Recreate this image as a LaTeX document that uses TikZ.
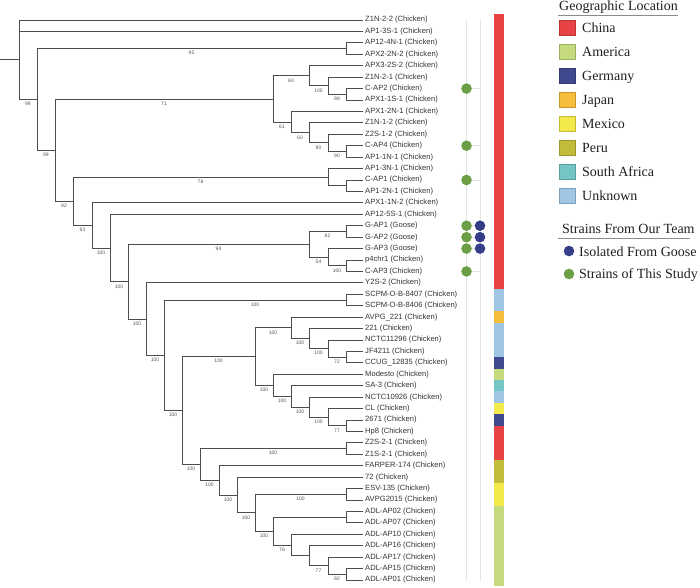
\documentclass[tikz,border=0pt]{standalone}
\usepackage{fontspec}
\setmainfont{Liberation Serif}
\newfontfamily\arialf{Liberation Sans}
\definecolor{treec}{HTML}{4D4D4D}
\definecolor{leafc}{HTML}{333333}
\definecolor{bsc}{HTML}{555555}
\definecolor{china}{HTML}{E84344}
\definecolor{america}{HTML}{C5DA7C}
\definecolor{germany}{HTML}{3E498E}
\definecolor{japan}{HTML}{F7BE3B}
\definecolor{mexico}{HTML}{F4E94B}
\definecolor{peru}{HTML}{C2BC3B}
\definecolor{safrica}{HTML}{74C6C5}
\definecolor{unknown}{HTML}{A0C6E6}
\definecolor{dotgreen}{HTML}{6C9E45}
\definecolor{dotblue}{HTML}{363D88}
\definecolor{axisgray}{HTML}{E4E4E4}
\newcommand\br[3]{\draw[br] (#1) |- node[bs]{#3} (#2);}
\begin{document}
\begin{tikzpicture}[x=1pt,y=-1pt,
  br/.style={draw=treec, line width=0.75pt, line cap=rect},
  bs/.style={pos=0.75, below=2pt, font=\arialf\fontsize{5}{5}\selectfont, text=bsc, inner sep=0.5pt},
  leaf/.style={anchor=west, font=\arialf\fontsize{7.6}{8}\selectfont, text=leafc, inner xsep=2pt, inner ysep=0pt},
  gdot/.style={circle, fill=dotgreen, minimum size=10.6pt, inner sep=0pt},
  bdot/.style={circle, fill=dotblue, minimum size=10.6pt, inner sep=0pt},
  sq/.style={draw=#1!80!black, line width=0.4pt, fill=#1, minimum width=16pt, minimum height=15pt, inner sep=0pt},
  lgtext/.style={anchor=base west, font=\fontsize{14}{14}\selectfont, text=black!88, inner sep=0pt},
  seg/.style={fill=#1}]
\useasboundingbox (0,0) rectangle (700,587);
% leaves
\foreach \i/\t in {1/{Z1N-2-2 (Chicken)},2/{AP1-3S-1 (Chicken)},3/{AP12-4N-1 (Chicken)},4/{APX2-2N-2 (Chicken)},5/{APX3-2S-2 (Chicken)},6/{Z1N-2-1 (Chicken)},7/{C-AP2 (Chicken)},8/{APX1-1S-1 (Chicken)},9/{APX1-2N-1 (Chicken)},10/{Z1N-1-2 (Chicken)},11/{Z2S-1-2 (Chicken)},12/{C-AP4 (Chicken)},13/{AP1-1N-1 (Chicken)},14/{AP1-3N-1 (Chicken)},15/{C-AP1 (Chicken)},16/{AP1-2N-1 (Chicken)},17/{APX1-1N-2 (Chicken)},18/{AP12-5S-1 (Chicken)},19/{G-AP1 (Goose)},20/{G-AP2 (Goose)},21/{G-AP3 (Goose)},22/{p4chr1 (Chicken)},23/{C-AP3 (Chicken)},24/{Y2S-2 (Chicken)},25/{SCPM-O-B-8407 (Chicken)},26/{SCPM-O-B-8406 (Chicken)},27/{AVPG\_221 (Chicken)},28/{221 (Chicken)},29/{NCTC11296 (Chicken)},30/{JF4211 (Chicken)},31/{CCUG\_12835 (Chicken)},32/{Modesto (Chicken)},33/{SA-3 (Chicken)},34/{NCTC10926 (Chicken)},35/{CL (Chicken)},36/{2671 (Chicken)},37/{Hp8 (Chicken)},38/{Z2S-2-1 (Chicken)},39/{Z1S-2-1 (Chicken)},40/{FARPER-174 (Chicken)},41/{72 (Chicken)},42/{ESV-135 (Chicken)},43/{AVPG2015 (Chicken)},44/{ADL-AP02 (Chicken)},45/{ADL-AP07 (Chicken)},46/{ADL-AP10 (Chicken)},47/{ADL-AP16 (Chicken)},48/{ADL-AP17 (Chicken)},49/{ADL-AP15 (Chicken)},50/{ADL-AP01 (Chicken)}}{
  \coordinate (l\i) at (363,{20+(\i-1)*11.42857});
  \node[leaf] (t\i) at (l\i) {\t};
}
% internal nodes
\coordinate (stub) at (0,59.67);
\coordinate (root) at (19,59.67);
\coordinate (A) at (37,99.34);
\coordinate (C1) at (346,48.57);
\coordinate (B) at (55,150.1);
\coordinate (D) at (273,98.93);
\coordinate (E) at (309,75.71);
\coordinate (G) at (328,85.71);
\coordinate (H) at (346,94.29);
\coordinate (F) at (291,122.14);
\coordinate (I) at (309,132.86);
\coordinate (J) at (328,142.86);
\coordinate (K) at (346,151.43);
\coordinate (L) at (73,201.28);
\coordinate (M) at (328,177.14);
\coordinate (O) at (346,185.71);
\coordinate (Nn) at (92,225.42);
\coordinate (P) at (110,247.98);
\coordinate (Q) at (128,281.68);
\coordinate (GQ) at (309,244.29);
\coordinate (GA) at (346,231.43);
\coordinate (GB) at (328,257.14);
\coordinate (PC) at (346,265.71);
\coordinate (Q2) at (146,319.06);
\coordinate (N0) at (164,355.26);
\coordinate (SC) at (346,300);
\coordinate (N1) at (182,410.53);
\coordinate (R) at (255,356.61);
\coordinate (X) at (291,327.86);
\coordinate (Y) at (309,338.57);
\coordinate (Z) at (328,348.57);
\coordinate (AA) at (346,357.14);
\coordinate (S) at (273,385.36);
\coordinate (T) at (291,396.43);
\coordinate (U) at (309,407.14);
\coordinate (V) at (328,417.14);
\coordinate (W) at (346,425.71);
\coordinate (N2) at (200,464.44);
\coordinate (ZS) at (346,448.57);
\coordinate (N3) at (219,480.31);
\coordinate (N4) at (237,494.91);
\coordinate (N5) at (255,512.68);
\coordinate (EA) at (346,494.29);
\coordinate (AD0) at (273,531.07);
\coordinate (AD1) at (346,517.14);
\coordinate (AD2) at (291,545);
\coordinate (AD3) at (309,555.71);
\coordinate (AD4) at (328,565.71);
\coordinate (AD5) at (346,574.29);
% branches
\draw[br] (stub) -- (root);
\br{root}{l1}{} \br{root}{l2}{} \br{root}{A}{99}
\br{A}{C1}{95} \br{C1}{l3}{} \br{C1}{l4}{}
\br{A}{B}{99}
\br{B}{D}{71}
\br{D}{E}{60} \br{E}{l5}{} \br{E}{G}{100} \br{G}{l6}{} \br{G}{H}{98} \br{H}{l7}{} \br{H}{l8}{}
\br{D}{F}{61} \br{F}{l9}{} \br{F}{I}{60} \br{I}{l10}{} \br{I}{J}{90} \br{J}{l11}{} \br{J}{K}{90} \br{K}{l12}{} \br{K}{l13}{}
\br{B}{L}{92}
\br{L}{M}{78} \br{M}{l14}{} \br{M}{O}{} \br{O}{l15}{} \br{O}{l16}{}
\br{L}{Nn}{93} \br{Nn}{l17}{} \br{Nn}{P}{100} \br{P}{l18}{} \br{P}{Q}{100}
\br{Q}{GQ}{94} \br{GQ}{GA}{82} \br{GA}{l19}{} \br{GA}{l20}{} \br{GQ}{GB}{54} \br{GB}{l21}{} \br{GB}{PC}{100} \br{PC}{l22}{} \br{PC}{l23}{}
\br{Q}{Q2}{100} \br{Q2}{l24}{} \br{Q2}{N0}{100}
\br{N0}{SC}{100} \br{SC}{l25}{} \br{SC}{l26}{}
\br{N0}{N1}{100}
\br{N1}{R}{100}
\br{R}{X}{100} \br{X}{l27}{} \br{X}{Y}{100} \br{Y}{l28}{} \br{Y}{Z}{100} \br{Z}{l29}{} \br{Z}{AA}{72} \br{AA}{l30}{} \br{AA}{l31}{}
\br{R}{S}{100} \br{S}{l32}{} \br{S}{T}{100} \br{T}{l33}{} \br{T}{U}{100} \br{U}{l34}{} \br{U}{V}{100} \br{V}{l35}{} \br{V}{W}{77} \br{W}{l36}{} \br{W}{l37}{}
\br{N1}{N2}{100}
\br{N2}{ZS}{100} \br{ZS}{l38}{} \br{ZS}{l39}{}
\br{N2}{N3}{100} \br{N3}{l40}{} \br{N3}{N4}{100} \br{N4}{l41}{} \br{N4}{N5}{100}
\br{N5}{EA}{100} \br{EA}{l42}{} \br{EA}{l43}{}
\br{N5}{AD0}{100} \br{AD0}{AD1}{} \br{AD1}{l44}{} \br{AD1}{l45}{}
\br{AD0}{AD2}{76} \br{AD2}{l46}{} \br{AD2}{AD3}{} \br{AD3}{l47}{} \br{AD3}{AD4}{77} \br{AD4}{l48}{} \br{AD4}{AD5}{92} \br{AD5}{l49}{} \br{AD5}{l50}{}
% dot axes
\draw[axisgray, line width=0.6pt] (466.5,20) -- (466.5,581);
\draw[axisgray, line width=0.6pt] (480,20) -- (480,581);
\foreach \i in {7,12,15,19,20,21,23}{
  \draw[axisgray, line width=0.6pt] (466.5,{20+(\i-1)*11.42857}) -- (480,{20+(\i-1)*11.42857});
  \node[gdot] (g\i) at (466.5,{20+(\i-1)*11.42857}) {};
}
\foreach \i in {19,20,21}{
  \node[bdot] (b\i) at (480,{20+(\i-1)*11.42857}) {};
}
% colour bar
\fill[china]   (494,14.29) rectangle (504,288.57);
\fill[unknown] (494,288.57) rectangle (504,311.43);
\fill[japan]   (494,311.43) rectangle (504,322.86);
\fill[unknown] (494,322.86) rectangle (504,357.14);
\fill[germany] (494,357.14) rectangle (504,368.57);
\fill[america] (494,368.57) rectangle (504,380);
\fill[safrica] (494,380) rectangle (504,391.43);
\fill[unknown] (494,391.43) rectangle (504,402.86);
\fill[mexico]  (494,402.86) rectangle (504,414.29);
\fill[germany] (494,414.29) rectangle (504,425.71);
\fill[china]   (494,425.71) rectangle (504,460);
\fill[peru]    (494,460) rectangle (504,482.86);
\fill[mexico]  (494,482.86) rectangle (504,505.71);
\fill[america] (494,505.71) rectangle (504,585.71);
% legend
\node[lgtext] (geot) at (559,10) {Geographic Location};
\draw[black!45, line width=0.7pt] (558,15.5) -- (678,15.5);
\foreach \c/\n [count=\k from 0] in {china/China,america/America,germany/Germany,japan/Japan,mexico/Mexico,peru/Peru,safrica/South Africa,unknown/Unknown}{
  \node[sq=\c] (sq\k) at (567.5,{28+24*\k}) {};
  \node[lgtext] (lg\k) at (582,{28+24*\k+4.6}) {\n};
}
\node[lgtext] (teamt) at (562,233) {Strains From Our Team};
\draw[black!45, line width=0.7pt] (558,238.5) -- (690,238.5);
\node[bdot] (lb) at (569,251) {};
\node[lgtext] (lbt) at (579,256.5) {Isolated From Goose};
\node[gdot] (lgd) at (569,274) {};
\node[lgtext] (lgdt) at (579,278) {Strains of This Study};
\end{tikzpicture}
\end{document}
